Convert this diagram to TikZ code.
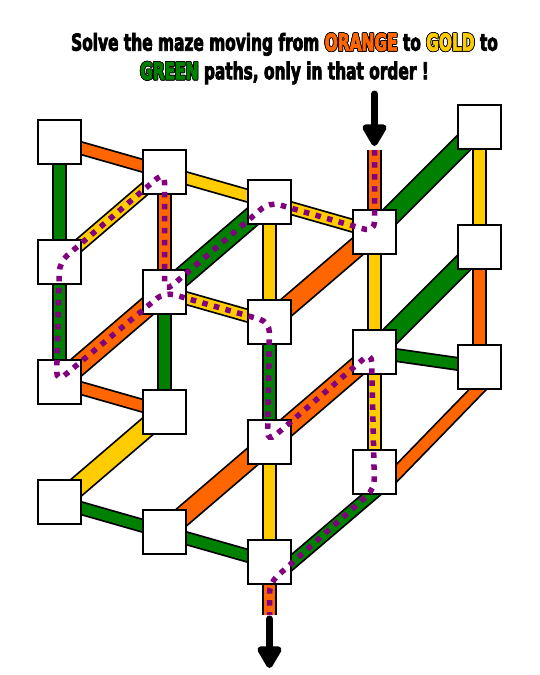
\documentclass[tikz,border=0pt]{standalone}
\usepackage{fontspec}
\usepackage{contour}
\usetikzlibrary{arrows.meta,calc}
\newfontfamily\titlefont{DejaVu Sans}[FakeStretch=0.655,FakeBold=3]
\definecolor{pOrange}{HTML}{FF6600}
\definecolor{pGold}{HTML}{FFCC00}
\definecolor{pGreen}{HTML}{008000}
\definecolor{pPurple}{HTML}{800080}
\contourlength{0.7pt}
\contournumber{16}
\pgfdeclarelayer{bg}
\pgfsetlayers{bg,main}
\begin{document}
\begin{tikzpicture}[x=1pt,y=-1pt,
  pipeV/.style={line width=11.5pt, preaction={draw=black,line width=15pt}},
  pipeS/.style={line width=10.5pt, preaction={draw=black,line width=14pt}},
  pipeL/.style={line width=17.5pt, preaction={draw=black,line width=21pt}},
  box/.style={draw=black, fill=white, line width=2pt, minimum size=43.5pt, inner sep=0pt},
  route/.style={draw=pPurple, line width=5.5pt, dash pattern=on 5.5pt off 6.5pt, rounded corners=10pt},
  bigarrow/.style={draw=black, line width=7pt, line cap=round, -{Triangle[width=27pt,length=25pt,round]}},
  titletext/.style={font=\titlefont\bfseries\fontsize{23.5}{28}\selectfont, anchor=base, inner sep=0pt}
]
\useasboundingbox (0,0) rectangle (540,675);

% title
\node[titletext] (title1) at (284.5,50.7) {Solve the maze moving from {\color{pOrange}\contour{black}{ORANGE}} to {\color{pGold}\contour{black}{GOLD}} to};
\node[titletext] (title2) at (284.5,79.3) {{\color{pGreen}\contour{black}{GREEN}} paths, only in that order !};

% boxes
\node[box] (A1) at (59.5,142) {};
\node[box] (A2) at (59.5,262) {};
\node[box] (A3) at (59.5,382) {};
\node[box] (A4) at (59.5,502) {};
\node[box] (B1) at (164.5,172) {};
\node[box] (B2) at (164.5,292) {};
\node[box] (B3) at (164.5,412) {};
\node[box] (B4) at (164.5,532) {};
\node[box] (C1) at (269.5,202) {};
\node[box] (C2) at (269.5,322) {};
\node[box] (C3) at (269.5,442) {};
\node[box] (C4) at (269.5,562) {};
\node[box] (D1) at (374.5,232) {};
\node[box] (D2) at (374.5,352) {};
\node[box] (D3) at (374.5,472) {};
\node[box] (E1) at (479.5,127) {};
\node[box] (E2) at (479.5,247) {};
\node[box] (E3) at (479.5,367) {};

\coordinate (inEnd) at (374.5,150);
\coordinate (outEnd) at (269.5,615);
\coordinate (inStart) at (374.5,94);
\coordinate (inTip) at (374.5,146);
\coordinate (outStart) at (269.5,619);
\coordinate (outTip) at (269.5,668);

\begin{pgfonlayer}{bg}
% vertical pipes
\draw[pipeV, draw=pGreen]  (A1.center) -- (A2.center);
\draw[pipeV, draw=pGreen]  (A2.center) -- (A3.center);
\draw[pipeV, draw=pOrange] (B1.center) -- (B2.center);
\draw[pipeV, draw=pGreen]  (B2.center) -- (B3.center);
\draw[pipeV, draw=pGold]   (C1.center) -- (C2.center);
\draw[pipeV, draw=pGreen]  (C2.center) -- (C3.center);
\draw[pipeV, draw=pGold]   (C3.center) -- (C4.center);
\draw[pipeV, draw=pGold]   (D1.center) -- (D2.center);
\draw[pipeV, draw=pGold]   (D2.center) -- (D3.center);
\draw[pipeV, draw=pGold]   (E1.center) -- (E2.center);
\draw[pipeV, draw=pOrange] (E2.center) -- (E3.center);
\draw[pipeV, draw=pOrange] (inEnd) -- (D1.center);
\draw[pipeV, draw=pOrange] (C4.center) -- (outEnd);
% thin diagonal pipes
\draw[pipeS, draw=pOrange] (A1.center) -- (B1.center);
\draw[pipeS, draw=pGold]   (B1.center) -- (C1.center);
\draw[pipeS, draw=pGold]   (A2.center) -- (B1.center);
\draw[pipeS, draw=pGold]   (C1.center) -- (D1.center);
\draw[pipeS, draw=pGold]   (B2.center) -- (C2.center);
\draw[pipeS, draw=pOrange] (A3.center) -- (B3.center);
\draw[pipeS, draw=pGreen]  (A4.center) -- (B4.center);
\draw[pipeS, draw=pGreen]  (B4.center) -- (C4.center);
\draw[pipeS, draw=pGreen]  (D2.center) -- (E3.center);
\draw[pipeS, draw=pOrange] ($(E3.center)+(5.5,15)$) -- ($(D3.center)+(12.5,11)$);
\draw[pipeS, draw=pGreen]  ($(D3.center)+(10.5,11)$) -- ($(C4.center)+(10.5,10.5)$);
% thick diagonal pipes
\draw[pipeL, draw=pGreen]  (C1.center) -- (B2.center);
\draw[pipeL, draw=pOrange] (C2.center) -- (D1.center);
\draw[pipeL, draw=pOrange] (B2.center) -- (A3.center);
\draw[pipeL, draw=pOrange] (C3.center) -- (D2.center);
\draw[pipeL, draw=pGold]   (B3.center) -- (A4.center);
\draw[pipeL, draw=pOrange] (B4.center) -- (C3.center);
\draw[pipeL, draw=pGreen]  (D1.center) -- (E1.center);
\draw[pipeL, draw=pGreen]  (E2.center) -- (D2.center);
\end{pgfonlayer}

% solution route
\draw[route] (inEnd) -- (D1.center) -- (C1.center) -- (B2.center) -- (B1.center)
  -- (A2.center) -- ($(A3.center)+(-3,0)$) -- (B2.center) -- (C2.center) -- ($(C3.center)+(-2,0)$)
  -- ($(D2.center)+(-3,0)$) -- ($(D3.center)+(0,17)$) -- ($(C4.center)+(0,21)$) -- (outEnd);

% arrows
\draw[bigarrow] (inStart) -- (inTip);
\draw[bigarrow] (outStart) -- (outTip);
\end{tikzpicture}
\end{document}
